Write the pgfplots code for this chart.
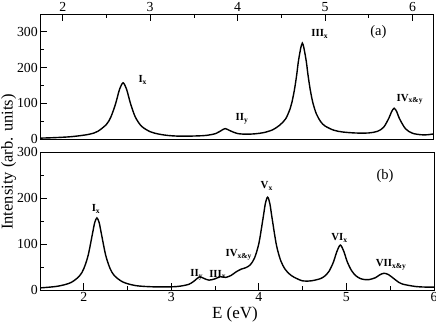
\documentclass[border=0pt]{standalone}
\usepackage{fontspec}
\setmainfont{Liberation Serif}
\usepackage{pgfplots}
\pgfplotsset{compat=1.18}
\newcommand{\lab}[2]{\textbf{#1}\textsubscript{\textbf{#2}}}
\begin{document}
\begin{tikzpicture}
\path[use as bounding box] (0,0) rectangle (436bp,323bp);
\pgfplotsset{
  panel/.style={
    scale only axis, anchor=south west,
    tick align=inside, major tick length=7bp, minor tick length=4bp,
    ytick pos=left,
    xtick={2,3,4,5,6}, minor xtick={2.5,3.5,4.5,5.5},
    ytick={0,100,200,300}, minor ytick={50,150,250},
    axis line style={line width=0.8bp},
    every tick/.style={black, line width=0.8bp},
    every minor tick/.style={black, line width=0.8bp},
    tick label style={font=\fontsize{13.8bp}{16bp}\selectfont},
    /pgf/number format/assume math mode=true,
    xticklabel style={inner sep=2bp},
    yticklabel style={inner sep=2bp},
    nodes={font=\fontsize{10.8bp}{12bp}\selectfont},
    clip=true,
  },
  curve/.style={black, line width=1.4bp, smooth, tension=0.5, mark=none},
}
% ---------- panel (a) ----------
\begin{axis}[panel,
  at={(40bp,183.8bp)}, width=393.5bp, height=125.2bp,
  xmin=1.74, xmax=6.24, ymin=0, ymax=350,
  xtick pos=upper, xticklabel pos=upper]
\addplot[curve] coordinates {
(1.74,3.0) (1.9,4.3) (2.1,7.1) (2.3,13.6) (2.4,21.9) (2.5,41.5) (2.55,61.8)
(2.6,95.5) (2.625,117.6) (2.65,139.6) (2.69,157.7) (2.73,139.6) (2.755,117.6) (2.78,95.7)
(2.83,62) (2.9,36.5) (3.0,20.9) (3.1,14.2) (3.2,10.5) (3.3,8.8) (3.4,8.4)
(3.5,8.9) (3.6,9.8) (3.65,10.9) (3.75,15.8) (3.82,25.3) (3.86,29.6) (3.92,23)
(4.0,15.8) (4.1,14) (4.2,15.1) (4.3,18.5) (4.4,26.2) (4.48,39) (4.55,57.2)
(4.6,84.9) (4.62,102) (4.65,138.5) (4.675,179) (4.7,225.5) (4.74,268.5) (4.78,225.6)
(4.805,179.5) (4.83,138.9) (4.86,102.4) (4.9,71.1) (4.95,49) (5.0,36.8) (5.1,25.1)
(5.2,20.2) (5.35,17.3) (5.5,17.5) (5.6,22.1) (5.67,33.5) (5.73,59) (5.76,76.5)
(5.79,86.6) (5.82,76.7) (5.85,57.9) (5.92,29.1) (6.0,16.6) (6.1,12.4) (6.17,12.4)
(6.24,14.7)
};
\node at (axis cs:5.61,301) {\fontsize{14.5bp}{16bp}\selectfont (a)};
\node at (axis cs:2.915,166) {\lab{I}{x}};
\node at (axis cs:4.05,57) {\lab{II}{y}};
\node at (axis cs:4.94,294) {\lab{III}{x}};
\node at (axis cs:5.97,112) {\lab{IV}{x\&y}};
\end{axis}
% ---------- panel (b) ----------
\begin{axis}[panel,
  at={(40bp,32.7bp)}, width=394bp, height=138.3bp,
  xmin=1.5, xmax=6, ymin=0, ymax=300,
  xtick pos=lower, xticklabel pos=lower]
\addplot[curve] coordinates {
(1.5,5.2) (1.7,8.8) (1.85,16.5) (1.95,30.9) (2.0,46.9) (2.05,75.9) (2.1,123.5)
(2.125,147) (2.15,157) (2.175,147.2) (2.2,123.7) (2.25,76.3) (2.3,47.5) (2.35,31.7)
(2.45,17.7) (2.6,10) (2.8,7.5) (3.0,7.5) (3.1,9) (3.2,13) (3.26,20)
(3.32,29) (3.37,26) (3.43,22) (3.5,25) (3.56,29.5) (3.62,28) (3.68,32)
(3.74,40) (3.8,46) (3.85,49) (3.9,55) (3.95,69.9) (4.0,101.9) (4.05,159.3)
(4.075,189.3) (4.1,202) (4.125,188.3) (4.15,157.3) (4.2,98.4) (4.25,63.9) (4.3,45.6)
(4.35,35.2) (4.4,28.6) (4.5,20.4) (4.6,20.6) (4.7,25.1) (4.75,30.6) (4.8,40.9)
(4.85,60.6) (4.89,83.7) (4.93,98.1) (4.97,84.4) (5.01,61.5) (5.06,42.2) (5.11,31.2)
(5.16,25.4) (5.21,23.3) (5.26,23.3) (5.33,27.2) (5.38,33.5) (5.43,37) (5.48,34)
(5.53,27) (5.6,17) (5.65,13) (5.7,11) (5.8,8) (5.9,7) (6.0,7)
};
\node at (axis cs:5.44,248) {\fontsize{14.5bp}{16bp}\selectfont (b)};
\node at (axis cs:2.14,176) {\lab{I}{x}};
\node at (axis cs:3.29,34) {\lab{II}{y}};
\node at (axis cs:3.53,34) {\lab{III}{x}};
\node at (axis cs:3.77,77) {\lab{IV}{x\&y}};
\node at (axis cs:4.09,226) {\lab{V}{x}};
\node at (axis cs:4.92,113) {\lab{VI}{x}};
\node at (axis cs:5.51,56) {\lab{VII}{x\&y}};
\end{axis}
\node[rotate=90, inner sep=0pt, font=\fontsize{16.5bp}{19bp}\selectfont] at (8.8bp,161bp) {Intensity (arb. units)};
\node[anchor=base, font=\fontsize{17bp}{20bp}\selectfont] at (235bp,4.7bp) {E (eV)};
\end{tikzpicture}
\end{document}
